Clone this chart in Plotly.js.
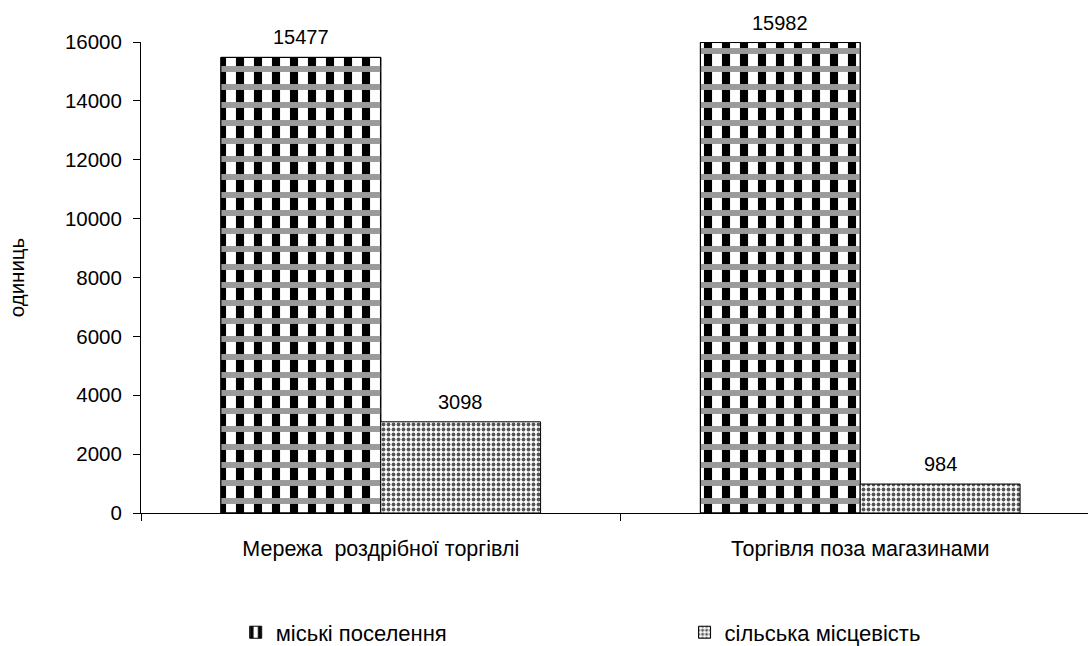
<!DOCTYPE html>
<html><head><meta charset="utf-8">
<script src="https://cdn.plot.ly/plotly-3.0.1.min.js"></script>
<style>html,body{margin:0;padding:0;background:#fff}</style>
</head><body>
<div id="chart" style="width:1088px;height:646px"></div>
<script>
const categories = ["Мережа  роздрібної торгівлі", "Торгівля поза магазинами"];
const urbanName = "міські поселення";
const ruralName = "сільська місцевість";
const urbanValues = [15477, 15982];
const ruralValues = [3098, 984];
const yTicks = [0, 2000, 4000, 6000, 8000, 10000, 12000, 14000, 16000];

const fam = "Liberation Sans, Arial, sans-serif";
const font = {family: fam, size: 20, color: "#000"};
const tickFont = {family: fam, size: 20.5, color: "#000"};
const catFont = {family: fam, size: 21.5, color: "#000"};
const legFont = {family: fam, size: 22, color: "#000"};
const clear = "rgba(0,0,0,0)";

const traces = [
  {
    type: "bar", name: urbanName, x: categories, y: urbanValues,
    offsetgroup: "u", legend: "legend",
    marker: {color: "#ffffff", line: {color: "#000", width: 1},
      pattern: {shape: "|", fgcolor: "#000", bgcolor: "#ffffff", size: 18, solidity: 0.45, fillmode: "replace"}}
  },
  {
    type: "bar", name: urbanName, x: categories, y: urbanValues,
    offsetgroup: "u", showlegend: false, hoverinfo: "skip",
    marker: {color: clear, line: {color: "#000", width: 1},
      pattern: {shape: "-", fgcolor: "#9a9a9a", bgcolor: clear, size: 18, solidity: 0.33, fillmode: "replace"}}
  },
  {
    type: "bar", name: ruralName, x: categories, y: ruralValues,
    offsetgroup: "r", legend: "legend2",
    marker: {color: "#ffffff", line: {color: "#000", width: 1},
      pattern: {shape: ".", fgcolor: "#555", bgcolor: "#ffffff", size: 5, solidity: 0.45}}
  }
];

const annotations = [];
categories.forEach((c, i) => {
  annotations.push({x: c, y: urbanValues[i], xref: "x", yref: "y", text: String(urbanValues[i]),
    showarrow: false, xshift: -80, yshift: 20, yanchor: "middle", font: font});
  annotations.push({x: c, y: ruralValues[i], xref: "x", yref: "y", text: String(ruralValues[i]),
    showarrow: false, xshift: 80, yshift: 20, yanchor: "middle", font: font});
});

const layout = {
  width: 1088, height: 646,
  margin: {l: 141, r: 0, t: 42, b: 133},
  paper_bgcolor: "#fff", plot_bgcolor: "#fff",
  font: font,
  barmode: "group", bargap: 0.3333, bargroupgap: 0,
  showlegend: true,
  annotations: annotations,
  legend: {orientation: "h", x: 0.1, xanchor: "left", yref: "container", y: 0.021, yanchor: "middle", font: legFont},
  legend2: {orientation: "h", x: 0.574, xanchor: "left", yref: "container", y: 0.021, yanchor: "middle", font: legFont},
  xaxis: {
    type: "category", range: [-0.5, 1.475],
    showline: true, linecolor: "#000", linewidth: 1,
    ticks: "outside", tickson: "boundaries", ticklen: 7, tickcolor: "#000",
    ticklabelstandoff: 16, showgrid: false, zeroline: false, tickfont: catFont
  },
  yaxis: {
    range: [0, 16000], tickvals: yTicks, ticktext: yTicks.map(String),
    showline: true, linecolor: "#000", linewidth: 1,
    ticks: "outside", ticklen: 7, tickcolor: "#000", ticklabelstandoff: 7,
    showgrid: false, zeroline: false, tickfont: tickFont,
    title: {text: "одиниць", font: {family: fam, size: 20.5, color: "#000"}, standoff: 34}
  }
};

Plotly.newPlot("chart", traces, layout, {displayModeBar: false, staticPlot: true});
</script>
</body></html>
